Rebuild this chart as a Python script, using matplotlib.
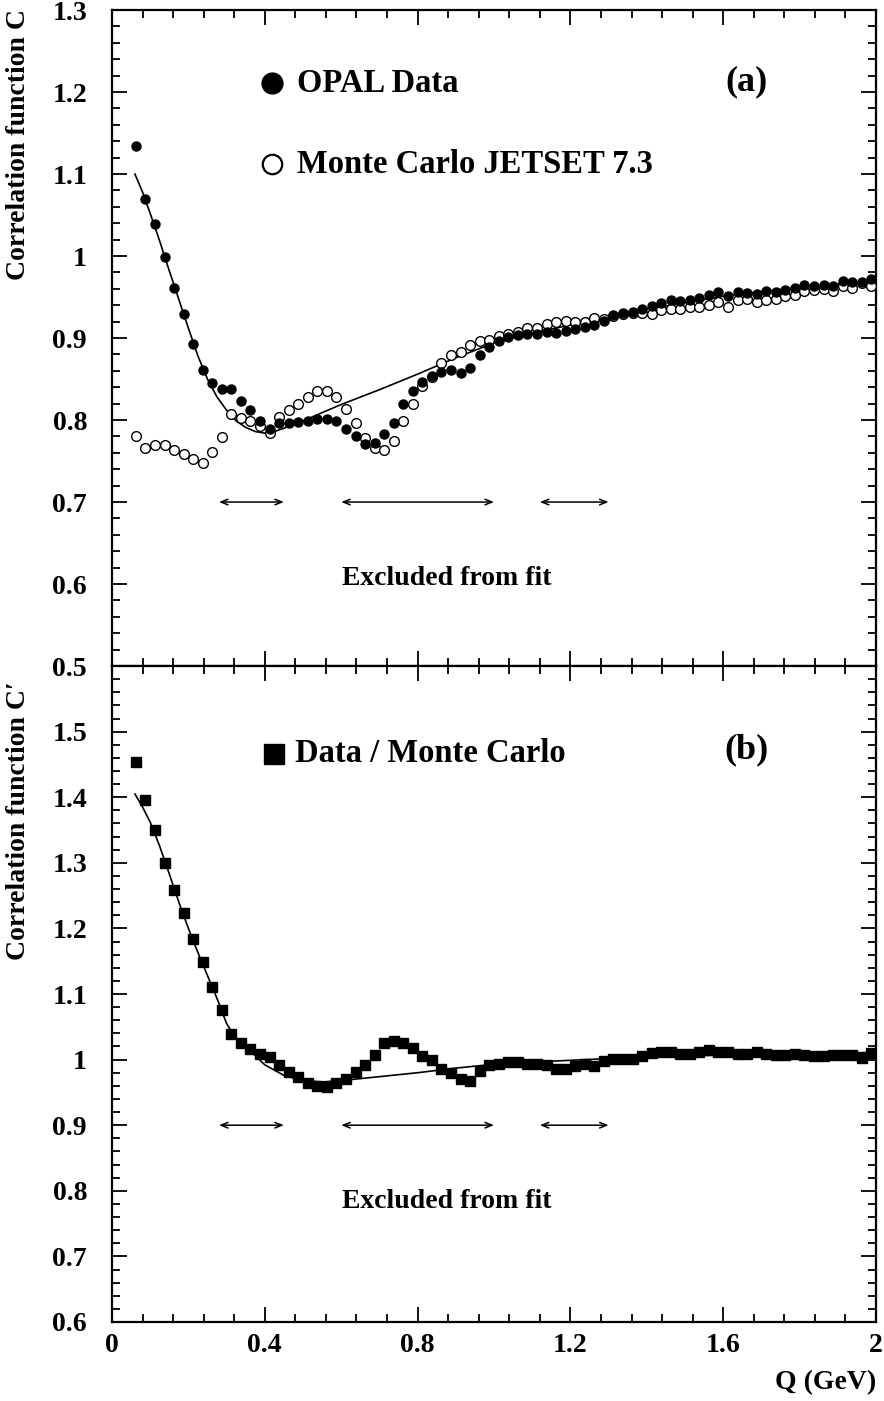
import matplotlib
matplotlib.use("Agg")
import matplotlib.pyplot as plt
from matplotlib.ticker import MultipleLocator, FuncFormatter

plt.rcParams["font.family"] = ["Liberation Serif", "DejaVu Serif"]
plt.rcParams["font.weight"] = "bold"

# Q bin centres (GeV)
q_bins = [0.0625, 0.0875, 0.1125, 0.1375, 0.1625, 0.1875, 0.2125, 0.2375, 0.2625, 0.2875,
          0.3125, 0.3375, 0.3625, 0.3875, 0.4125, 0.4375, 0.4625, 0.4875, 0.5125, 0.5375,
          0.5625, 0.5875, 0.6125, 0.6375, 0.6625, 0.6875, 0.7125, 0.7375, 0.7625, 0.7875,
          0.8125, 0.8375, 0.8625, 0.8875, 0.9125, 0.9375, 0.9625, 0.9875, 1.0125, 1.0375,
          1.0625, 1.0875, 1.1125, 1.1375, 1.1625, 1.1875, 1.2125, 1.2375, 1.2625, 1.2875,
          1.3125, 1.3375, 1.3625, 1.3875, 1.4125, 1.4375, 1.4625, 1.4875, 1.5125, 1.5375,
          1.5625, 1.5875, 1.6125, 1.6375, 1.6625, 1.6875, 1.7125, 1.7375, 1.7625, 1.7875,
          1.8125, 1.8375, 1.8625, 1.8875, 1.9125, 1.9375, 1.9625, 1.9875]

opal_c = [1.134, 1.070, 1.039, 0.999, 0.961, 0.929, 0.893, 0.861, 0.845, 0.838,
          0.838, 0.823, 0.812, 0.799, 0.789, 0.797, 0.796, 0.798, 0.799, 0.801,
          0.801, 0.799, 0.789, 0.780, 0.771, 0.772, 0.783, 0.797, 0.820, 0.835,
          0.846, 0.854, 0.859, 0.861, 0.857, 0.864, 0.879, 0.889, 0.896, 0.901,
          0.904, 0.905, 0.905, 0.908, 0.906, 0.909, 0.911, 0.914, 0.916, 0.921,
          0.928, 0.930, 0.932, 0.936, 0.939, 0.943, 0.947, 0.945, 0.947, 0.949,
          0.952, 0.956, 0.951, 0.956, 0.955, 0.954, 0.957, 0.956, 0.959, 0.961,
          0.965, 0.964, 0.965, 0.964, 0.970, 0.968, 0.968, 0.972]

mc_c = [0.780, 0.766, 0.770, 0.769, 0.764, 0.759, 0.753, 0.748, 0.761, 0.779,
        0.807, 0.802, 0.799, 0.793, 0.784, 0.804, 0.812, 0.820, 0.828, 0.835,
        0.836, 0.828, 0.813, 0.796, 0.778, 0.766, 0.763, 0.774, 0.799, 0.820,
        0.841, 0.853, 0.870, 0.879, 0.883, 0.892, 0.897, 0.898, 0.902, 0.905,
        0.908, 0.912, 0.912, 0.917, 0.920, 0.921, 0.920, 0.920, 0.925, 0.923,
        0.927, 0.929, 0.931, 0.930, 0.929, 0.934, 0.936, 0.936, 0.938, 0.938,
        0.940, 0.944, 0.938, 0.946, 0.948, 0.944, 0.946, 0.948, 0.951, 0.953,
        0.957, 0.959, 0.960, 0.957, 0.963, 0.961, 0.967, 0.963]

ratio_c = [1.454, 1.396, 1.350, 1.300, 1.258, 1.223, 1.184, 1.149, 1.110, 1.075,
           1.039, 1.026, 1.016, 1.008, 1.004, 0.992, 0.981, 0.973, 0.965, 0.960,
           0.958, 0.965, 0.970, 0.981, 0.992, 1.007, 1.025, 1.028, 1.026, 1.018,
           1.005, 0.999, 0.986, 0.979, 0.970, 0.968, 0.982, 0.992, 0.993, 0.997,
           0.997, 0.994, 0.994, 0.992, 0.986, 0.986, 0.991, 0.993, 0.991, 0.998,
           1.001, 1.001, 1.001, 1.006, 1.010, 1.011, 1.012, 1.009, 1.009, 1.012,
           1.014, 1.011, 1.012, 1.008, 1.008, 1.011, 1.009, 1.007, 1.007, 1.008,
           1.007, 1.005, 1.005, 1.007, 1.007, 1.007, 1.002, 1.010]

# fitted curves
fit_q_a = [0.06, 0.08, 0.10, 0.125, 0.15, 0.175, 0.20, 0.225, 0.25, 0.275, 0.30, 0.325,
           0.35, 0.375, 0.40, 0.425, 0.45, 0.50, 0.60, 0.70, 0.80, 0.90, 1.00, 1.10,
           1.20, 1.40, 1.60, 1.80, 2.00]
fit_c_a = [1.100, 1.078, 1.052, 1.018, 0.982, 0.947, 0.912, 0.878, 0.850, 0.828, 0.812, 0.799,
           0.791, 0.786, 0.784, 0.786, 0.790, 0.799, 0.819, 0.837, 0.856, 0.876, 0.894, 0.906,
           0.916, 0.935, 0.951, 0.962, 0.970]

fit_q_b = [0.06, 0.08, 0.10, 0.125, 0.15, 0.175, 0.20, 0.225, 0.25, 0.275, 0.30, 0.325,
           0.35, 0.375, 0.40, 0.45, 0.50, 0.55, 0.60, 0.70, 0.80, 0.90, 1.00, 1.20,
           1.40, 1.60, 1.80, 2.00]
fit_c_b = [1.405, 1.385, 1.362, 1.325, 1.283, 1.240, 1.200, 1.163, 1.128, 1.093, 1.055, 1.031,
           1.020, 1.006, 0.992, 0.976, 0.968, 0.966, 0.968, 0.974, 0.980, 0.987, 0.993, 0.999,
           1.004, 1.007, 1.009, 1.011]

# Q ranges left out of the fit
excluded = [(0.28, 0.45), (0.60, 1.00), (1.12, 1.30)]

TICK_FS = 20
LEGEND_FS = 23.5


def style_axes(ax, ylo, yhi, label_lo, label_hi):
    ax.set_xlim(0, 2)
    ax.set_ylim(ylo, yhi)
    ax.xaxis.set_major_locator(MultipleLocator(0.4))
    ax.xaxis.set_minor_locator(MultipleLocator(0.08))
    ax.yaxis.set_major_locator(MultipleLocator(0.1))
    ax.yaxis.set_minor_locator(MultipleLocator(0.02))
    ax.tick_params(which="both", direction="in", top=True, right=True, width=1.3,
                   labelsize=TICK_FS)
    ax.tick_params(which="major", length=11)
    ax.tick_params(which="minor", length=5.5)
    ax.tick_params(axis="y", pad=18)
    ax.tick_params(axis="x", pad=8)
    ax.yaxis.set_major_formatter(FuncFormatter(
        lambda v, p: f"{v:g}" if label_lo - 1e-6 <= v <= label_hi + 1e-6 else ""))
    ax.xaxis.set_major_formatter(FuncFormatter(lambda v, p: f"{v:g}"))
    for s in ax.spines.values():
        s.set_linewidth(1.6)


def draw_excluded(ax, y_arrow, y_text):
    for lo, hi in excluded:
        ax.annotate("", xy=(hi, y_arrow), xytext=(lo, y_arrow),
                    arrowprops=dict(arrowstyle="<->,head_length=0.5,head_width=0.2",
                                    lw=1.1, color="black", shrinkA=0, shrinkB=0))
    ax.text(0.877, y_text, "Excluded from fit", ha="center", va="center",
            fontsize=20, fontweight="bold")


fig = plt.figure(figsize=(8.84, 14.01), dpi=100)
ax_a = fig.add_axes([0.1267, 0.5246, 0.8643, 0.4682])
ax_b = fig.add_axes([0.1267, 0.0564, 0.8643, 0.4682])

# (a) raw correlation function
style_axes(ax_a, 0.5, 1.3, 0.5, 1.3)
ax_a.tick_params(axis="x", labelbottom=False)
ax_a.plot(fit_q_a, fit_c_a, color="black", lw=1.2, zorder=2)
ax_a.plot(q_bins, mc_c, "o", ms=7, mfc="white", mec="black", mew=1.0, zorder=3)
ax_a.plot(q_bins, opal_c, "o", ms=6.5, color="black", zorder=4)
draw_excluded(ax_a, 0.70, 0.607)

ax_a.plot([0.42], [1.211], "o", ms=15, color="black")
ax_a.text(0.485, 1.211, "OPAL Data", ha="left", va="center", fontsize=LEGEND_FS)
ax_a.plot([0.42], [1.112], "o", ms=14, mfc="white", mec="black", mew=1.6)
ax_a.text(0.485, 1.112, "Monte Carlo JETSET 7.3", ha="left", va="center", fontsize=LEGEND_FS)
ax_a.text(1.662, 1.212, "(a)", ha="center", va="center", fontsize=26)

# (b) ratio data / Monte Carlo
style_axes(ax_b, 0.6, 1.6, 0.6, 1.5)
ax_b.plot(fit_q_b, fit_c_b, color="black", lw=1.2, zorder=2)
ax_b.plot(q_bins, ratio_c, "s", ms=6.5, color="black", zorder=3)
draw_excluded(ax_b, 0.90, 0.783)

ax_b.plot([0.425], [1.466], "s", ms=15, color="black")
ax_b.text(0.478, 1.466, "Data / Monte Carlo", ha="left", va="center", fontsize=LEGEND_FS)
ax_b.text(1.662, 1.472, "(b)", ha="center", va="center", fontsize=26)

fig.text(0.021, 0.897, "Correlation function C", rotation=90, ha="center", va="center",
         fontsize=20, fontweight="bold")
fig.text(0.021, 0.414, "Correlation function C\u2032", rotation=90, ha="center", va="center",
         fontsize=20, fontweight="bold")
fig.text(0.991, 0.0128, "Q (GeV)", ha="right", va="center", fontsize=20, fontweight="bold")

fig.savefig("out.png", dpi=100)
